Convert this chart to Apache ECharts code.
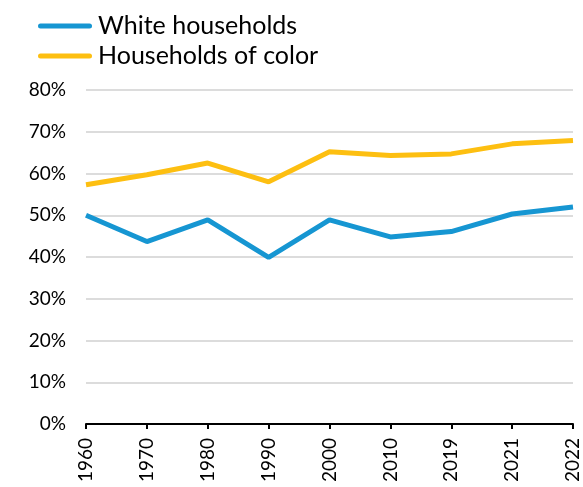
<!DOCTYPE html>
<html>
<head>
<meta charset="utf-8">
<script src="https://cdn.jsdelivr.net/npm/echarts@6/dist/echarts.min.js"></script>
<style>
  html, body { margin: 0; padding: 0; background: #fff; }
  #chart { width: 583px; height: 487px; }
</style>
</head>
<body>
<div id="chart"></div>
<script>
// Survey years along the x axis
const years = ['1960', '1970', '1980', '1990', '2000', '2010', '2019', '2021', '2022'];

// Share of households (%) by group
const whiteHouseholds = [50.0, 43.7, 48.9, 39.9, 48.9, 44.8, 46.1, 50.3, 52.0];
const householdsOfColor = [57.3, 59.7, 62.5, 58.0, 65.2, 64.3, 64.7, 67.1, 67.9];

const seriesNames = ['White households', 'Households of color'];
const seriesColors = ['#1696d2', '#fdbf11'];

const fontFamily = 'Lato, "Noto Sans", sans-serif';
const capsule = 'path://M2.5,0 L51.5,0 A2.5,2.5 0 0 1 51.5,5 L2.5,5 A2.5,2.5 0 0 1 2.5,0 Z';

const chart = echarts.init(document.getElementById('chart'), null, { renderer: 'canvas' });

chart.setOption({
  animation: false,
  color: seriesColors,
  legend: {
    orient: 'vertical',
    left: 33,
    top: 8,
    itemWidth: 54,
    itemHeight: 5,
    itemGap: 4,
    icon: capsule,
    textStyle: { fontFamily, fontSize: 25, color: '#000', lineHeight: 26, padding: [0, 0, 0, 1] },
    data: seriesNames
  },
  grid: { left: 86, right: 10, top: 90, bottom: 63, containLabel: false },
  xAxis: {
    type: 'category',
    data: years,
    boundaryGap: false,
    axisLine: { lineStyle: { color: '#000', width: 2 } },
    axisTick: { alignWithLabel: true, length: 5, lineStyle: { color: '#000', width: 2 } },
    axisLabel: { rotate: 90, fontFamily, fontSize: 19, color: '#000', margin: 14, interval: 0 },
    splitLine: { show: false }
  },
  yAxis: {
    type: 'value',
    min: 0,
    max: 80,
    interval: 10,
    axisLine: { show: false },
    axisTick: { show: false },
    axisLabel: { formatter: '{value}%', fontFamily, fontSize: 19, color: '#000', margin: 20 },
    splitLine: { lineStyle: { color: '#dcdcdc', width: 2 } }
  },
  series: [
    {
      name: seriesNames[0],
      type: 'line',
      data: whiteHouseholds,
      showSymbol: false,
      symbol: 'none',
      lineStyle: { width: 5, color: seriesColors[0] }
    },
    {
      name: seriesNames[1],
      type: 'line',
      data: householdsOfColor,
      showSymbol: false,
      symbol: 'none',
      lineStyle: { width: 5, color: seriesColors[1] }
    }
  ]
});
</script>
</body>
</html>
